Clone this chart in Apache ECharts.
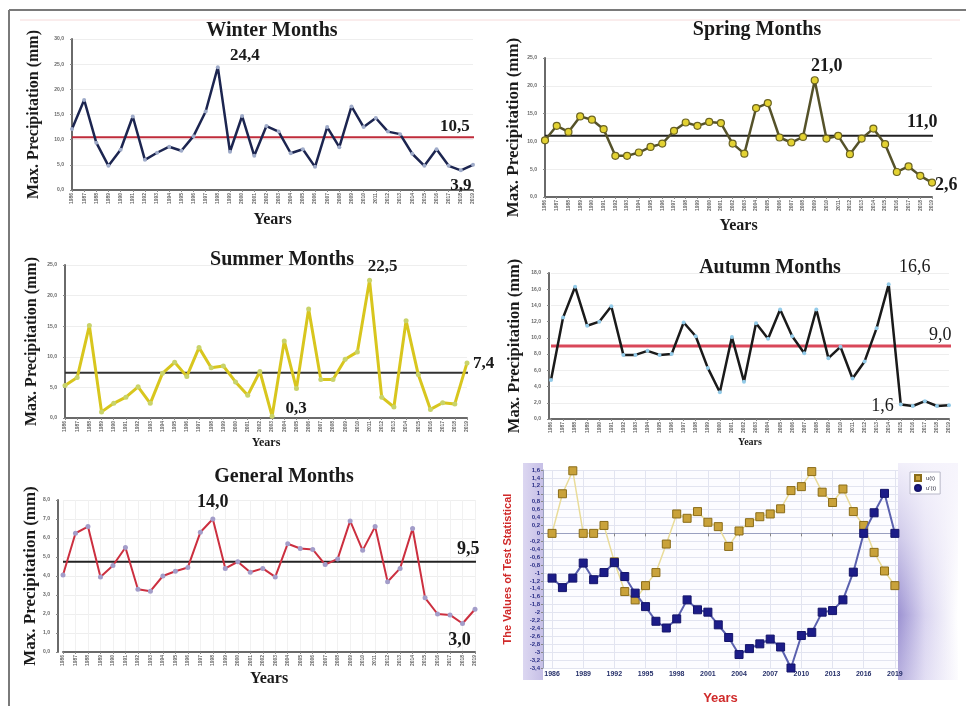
<!DOCTYPE html>
<html>
<head>
<meta charset="utf-8">
<script src="https://cdn.jsdelivr.net/npm/echarts@6/dist/echarts.min.js"></script>
<style>
  html, body { margin: 0; padding: 0; background: #ffffff; }
  #chart { width: 966px; height: 706px; }
</style>
</head>
<body>
<div id="chart"></div>
<script>
// Years of record (1986-2019)
const years = [1986, 1987, 1988, 1989, 1990, 1991, 1992, 1993, 1994, 1995, 1996, 1997,
  1998, 1999, 2000, 2001, 2002, 2003, 2004, 2005, 2006, 2007, 2008, 2009, 2010,
  2011, 2012, 2013, 2014, 2015, 2016, 2017, 2018, 2019];

// Maximum precipitation per season (mm)
const winterMax = [12.1, 17.9, 9.4, 4.8, 8.0, 14.6, 6.0, 7.4, 8.6, 7.8, 10.7, 15.6, 24.4, 7.6,
  14.7, 6.8, 12.7, 11.6, 7.3, 8.1, 4.6, 12.5, 8.5, 16.6, 12.5, 14.3, 11.6, 11.1, 7.2, 4.8,
  8.1, 4.8, 3.9, 5.0];
const springMax = [10.2, 12.8, 11.7, 14.5, 13.9, 12.2, 7.4, 7.4, 8.0, 9.0, 9.6, 11.9, 13.4, 12.8,
  13.5, 13.3, 9.6, 7.8, 16.0, 16.9, 10.7, 9.8, 10.8, 21.0, 10.5, 11.0, 7.7, 10.5, 12.3, 9.5,
  4.5, 5.5, 3.8, 2.6];
const summerMax = [5.3, 6.6, 15.1, 1.0, 2.4, 3.4, 5.1, 2.4, 7.3, 9.1, 6.8, 11.5, 8.2, 8.5,
  5.9, 3.7, 7.6, 0.3, 12.6, 4.8, 17.8, 6.3, 6.3, 9.6, 10.8, 22.5, 3.4, 1.8, 15.9, 7.1,
  1.4, 2.5, 2.3, 9.0];
const autumnMax = [4.8, 12.5, 16.3, 11.5, 12.0, 13.9, 7.9, 7.9, 8.4, 7.9, 8.0, 11.9, 10.2, 6.3,
  3.3, 10.1, 4.6, 11.8, 9.9, 13.5, 10.2, 8.1, 13.5, 7.5, 8.9, 5.0, 7.1, 11.2, 16.6, 1.8,
  1.6, 2.2, 1.6, 1.7];
const generalMax = [8.1, 12.5, 13.2, 7.9, 9.1, 11.0, 6.6, 6.4, 8.0, 8.5, 8.9, 12.6, 14.0, 8.8,
  9.5, 8.4, 8.8, 7.9, 11.4, 10.9, 10.8, 9.2, 9.8, 13.8, 10.7, 13.2, 7.4, 8.8, 13.0, 5.7,
  4.0, 3.9, 3.0, 4.5];

// Long-term means (mm)
const winterMean = 10.5;
const springMean = 11.0;
const summerMean = 7.4;
const autumnMean = 9.0;
const generalMean = 9.5;

// Tick labels printed on the general-months value axis
const generalTickText = ['0,0', '1,0', '2,0', '3,0', '4,0', '5,0', '6,0', '7,0', '8,0'];

// Sequential Mann-Kendall statistics
const uForward = [0, 1.0, 1.58, 0, 0, 0.2, -0.72, -1.47, -1.68, -1.32, -0.99, -0.27, 0.49, 0.38,
  0.55, 0.28, 0.17, -0.33, 0.06, 0.27, 0.42, 0.49, 0.62, 1.08, 1.18, 1.56, 1.04, 0.78, 1.12,
  0.55, 0.2, -0.48, -0.95, -1.32];
const uBackward = [-1.13, -1.37, -1.13, -0.75, -1.17, -0.99, -0.74, -1.09, -1.51, -1.85, -2.22,
  -2.39, -2.16, -1.68, -1.93, -1.99, -2.31, -2.63, -3.06, -2.91, -2.79, -2.67, -2.87, -3.4,
  -2.58, -2.5, -1.99, -1.95, -1.68, -0.98, 0, 0.52, 1.01, 0];
const mkYearTicks = [1986, 1989, 1992, 1995, 1998, 2001, 2004, 2007, 2010, 2013, 2016, 2019];

const serif = "'Liberation Serif', 'DejaVu Serif', serif";
const sans = "'Liberation Sans', Arial, sans-serif";

const fmtComma = v => (Math.round(v * 10) / 10).toFixed(1).replace('.', ',');
const fmtMK = v => {
  const r = Math.round(v * 10) / 10;
  return Number.isInteger(r) ? String(r) : String(r).replace('.', ',');
};

// Seasonal panels
const panels = [
  {
    name: 'Winter Months', values: winterMax, mean: winterMean, yMax: 30, yStep: 5,
    grid: { left: 72, top: 39, width: 401, height: 151 }, yOffset: 0,
    nameGap: 30, nameSize: 16, xNameGap: 22, xNameSize: 16,
    title: { x: 272, y: 31 },
    line: { color: '#1c2550', width: 2.5 }, marker: { color: '#9fabc9', size: 4 },
    meanColor: '#bf2b3a', meanWidth: 2, meanEnd: 2020.4, meanLabel: [-34, -11],
    labelSize: 17, labelWeight: 'bold',
    notes: [{ year: 1998, pos: 'top', offset: [27, 4] }, { year: 2018, pos: 'bottom', offset: [0, 0] }]
  },
  {
    name: 'Spring Months', values: springMax, mean: springMean, yMax: 25, yStep: 5,
    grid: { left: 545, top: 58, width: 387, height: 139 }, yOffset: 0,
    nameGap: 23, nameSize: 17, xNameGap: 21, xNameSize: 16,
    title: { x: 757, y: 30 },
    line: { color: '#55522a', width: 2.5 }, marker: { color: '#e3d232', size: 7, border: '#6b6320' },
    meanColor: '#222222', meanWidth: 2, meanEnd: 2021.4, meanLabel: [-26, -13],
    labelSize: 18, labelWeight: 'bold',
    notes: [{ year: 2009, pos: 'top', offset: [12, 4] }, { year: 2019, pos: 'right', offset: [-6, 3] }]
  },
  {
    name: 'Summer Months', values: summerMax, mean: summerMean, yMax: 25, yStep: 5,
    grid: { left: 65, top: 265, width: 402, height: 153 }, yOffset: 0,
    nameGap: 25, nameSize: 16, xNameGap: 19, xNameSize: 12,
    title: { x: 282, y: 260 },
    line: { color: '#d8c61e', width: 3 }, marker: { color: '#c9d36a', size: 5 },
    meanColor: '#333333', meanWidth: 2, meanEnd: 2019.8, meanLabel: [5, -9],
    labelSize: 17, labelWeight: 'bold',
    notes: [{ year: 2011, pos: 'top', offset: [13, 2] }, { year: 2003, pos: 'right', offset: [6, -8] }]
  },
  {
    name: 'Autumn Months', values: autumnMax, mean: autumnMean, yMax: 18, yStep: 2,
    grid: { left: 551, top: 273, width: 398, height: 146 }, yOffset: 2,
    nameGap: 26, nameSize: 16.5, xNameGap: 17, xNameSize: 10,
    title: { x: 770, y: 268 },
    line: { color: '#1a1a1a', width: 2.5 }, marker: { color: '#93cbe9', size: 4 },
    meanColor: '#d9485a', meanWidth: 3, meanEnd: 2020.3, meanLabel: [-22, -11],
    labelSize: 18, labelWeight: 'normal',
    notes: [{ year: 2014, pos: 'top', offset: [26, -1] }, { year: 2016, pos: 'left', offset: [-12, 0] }]
  },
  {
    name: 'General Months', values: generalMax, mean: generalMean, yMax: 16, yStep: 2,
    grid: { left: 63, top: 500, width: 412, height: 152 }, yOffset: 5, vGrid: true,
    tickText: generalTickText,
    nameGap: 18, nameSize: 17, xNameGap: 19, xNameSize: 16,
    title: { x: 284, y: 477 },
    line: { color: '#cc2f3f', width: 2 }, marker: { color: '#a39dc9', size: 5 },
    meanColor: '#222222', meanWidth: 2, meanEnd: 2020.2, meanLabel: [-19, -12],
    labelSize: 18, labelWeight: 'bold',
    notes: [{ year: 1998, pos: 'top', offset: [0, 0] }, { year: 2018, pos: 'bottom', offset: [-3, 0] }]
  }
];

const grids = [], xAxes = [], yAxes = [], series = [], graphics = [];

panels.forEach((p, i) => {
  grids.push(Object.assign({ containLabel: false }, p.grid));

  xAxes.push({
    type: 'value', gridIndex: i, min: years[0], max: years[years.length - 1], interval: 1,
    name: 'Years', nameLocation: 'middle', nameGap: p.xNameGap,
    nameTextStyle: { fontFamily: serif, fontWeight: 'bold', fontSize: p.xNameSize, color: '#1a1a1a' },
    axisLine: { lineStyle: { color: '#6a6a6a', width: 2 } },
    axisTick: { show: true, length: 2, lineStyle: { color: '#888' } },
    axisLabel: { rotate: 90, fontSize: 5, fontWeight: 'bold', color: '#666', margin: 3,
      formatter: v => String(v) },
    splitLine: { show: !!p.vGrid, lineStyle: { color: '#f1f1f1' } }
  });

  yAxes.push({
    type: 'value', gridIndex: i, min: 0, max: p.yMax, interval: p.yStep, offset: p.yOffset,
    name: 'Max. Precipitation (mm)', nameLocation: 'middle', nameGap: p.nameGap,
    nameTextStyle: { fontFamily: serif, fontWeight: 'bold', fontSize: p.nameSize, color: '#1a1a1a' },
    axisLine: { show: true, lineStyle: { color: '#6a6a6a', width: 2 } },
    axisTick: { show: true, length: 2, lineStyle: { color: '#888' } },
    axisLabel: { fontSize: 5, fontWeight: 'bold', color: '#666', margin: 8,
      formatter: p.tickText ? (v => p.tickText[Math.round(v / p.yStep)]) : fmtComma },
    splitLine: { show: true, lineStyle: { color: '#eeeeee' } }
  });

  const labelStyle = { fontFamily: serif, fontSize: p.labelSize, fontWeight: p.labelWeight, color: '#1a1a1a' };

  // long-term mean
  series.push({
    type: 'line', xAxisIndex: i, yAxisIndex: i, silent: true, animation: false,
    data: [[years[0], p.mean], [p.meanEnd, p.mean]],
    showSymbol: false, symbol: 'none', clip: false, z: 2,
    lineStyle: { color: p.meanColor, width: p.meanWidth },
    endLabel: Object.assign({ show: true, formatter: fmtComma(p.mean), distance: 0, offset: p.meanLabel }, labelStyle)
  });

  // yearly maxima
  series.push({
    type: 'line', xAxisIndex: i, yAxisIndex: i, silent: true, animation: false, z: 3,
    data: p.values.map((v, k) => {
      const item = { value: [years[k], v] };
      const note = p.notes.find(n => n.year === years[k]);
      if (note) {
        item.label = Object.assign({ show: true, position: note.pos, offset: note.offset, distance: 5,
          formatter: fmtComma(v) }, labelStyle);
      }
      return item;
    }),
    symbol: 'circle', symbolSize: p.marker.size, showSymbol: true,
    itemStyle: { color: p.marker.color, borderColor: p.marker.border || p.marker.color,
      borderWidth: p.marker.border ? 1.2 : 0 },
    lineStyle: p.line
  });

  graphics.push({
    type: 'text', x: p.title.x, y: p.title.y, z: 10,
    style: { text: p.name, align: 'center', verticalAlign: 'middle',
      font: 'bold 20px ' + serif, fill: '#1a1a1a' }
  });
});

// Mann-Kendall panel
const mk = panels.length;
grids.push({ left: 543, top: 470, width: 355, height: 198, show: true,
  backgroundColor: '#fcfcff', borderWidth: 0 });
xAxes.push({
  type: 'value', gridIndex: mk, min: 1985.13, max: 2019.3,
  name: 'Years', nameLocation: 'middle', nameGap: 24,
  nameTextStyle: { fontFamily: sans, fontWeight: 'bold', fontSize: 13, color: '#d02a2a' },
  axisLine: { lineStyle: { color: '#9aa0c0', width: 1 } },
  axisTick: { show: true, length: 3, customValues: mkYearTicks, lineStyle: { color: '#888' } },
  axisLabel: { customValues: mkYearTicks, fontSize: 7, fontWeight: 'bold', color: '#26306a', margin: 3,
    formatter: v => String(v) },
  splitLine: { show: true, lineStyle: { color: '#e2e4f0' } }
});
yAxes.push({
  type: 'value', gridIndex: mk, min: -3.4, max: 1.6, interval: 0.2,
  name: 'The Values of Test Statistical', nameLocation: 'middle', nameGap: 30,
  nameTextStyle: { fontFamily: sans, fontWeight: 'bold', fontSize: 11, color: '#d02a2a' },
  axisLine: { show: true, lineStyle: { color: '#9aa0c0', width: 1 } },
  axisTick: { show: true, length: 2, lineStyle: { color: '#888' } },
  axisLabel: { fontSize: 6, fontWeight: 'bold', color: '#2a2f86', margin: 3, formatter: fmtMK },
  splitLine: { show: true, lineStyle: { color: '#e2e4f0' } }
});
series.push({
  name: 'u(t)', type: 'line', xAxisIndex: mk, yAxisIndex: mk, silent: true, animation: false, z: 3,
  data: uForward.map((v, k) => [years[k], v]),
  symbol: 'rect', symbolSize: 8,
  itemStyle: { color: '#c9a23a', borderColor: '#8a6c18', borderWidth: 1 },
  lineStyle: { color: '#e9dc9a', width: 1.5 }
});
series.push({
  name: "u'(t)", type: 'line', xAxisIndex: mk, yAxisIndex: mk, silent: true, animation: false, z: 4,
  data: uBackward.map((v, k) => [years[k], v]),
  symbol: 'rect', symbolSize: 8,
  itemStyle: { color: '#1c1c88', borderColor: '#14146a', borderWidth: 1 },
  lineStyle: { color: '#5a60ae', width: 2 }
});

// panel decorations: frame, lavender bands beside the test-statistic plot
graphics.unshift(
  { type: 'line', shape: { x1: 9, y1: 10, x2: 966, y2: 10 }, style: { stroke: '#7a7a7a', lineWidth: 2 } },
  { type: 'line', shape: { x1: 9, y1: 10, x2: 9, y2: 706 }, style: { stroke: '#7a7a7a', lineWidth: 2 } },
  { type: 'line', shape: { x1: 20, y1: 20, x2: 960, y2: 20 }, style: { stroke: '#f6dada', lineWidth: 1 } },
  { type: 'rect', shape: { x: 523, y: 463, width: 20, height: 217 }, z: -1,
    style: { fill: new echarts.graphic.LinearGradient(0, 0, 1, 0, [
      { offset: 0, color: '#dcd7f1' }, { offset: 1, color: '#c6bfe6' }]) } },
  { type: 'rect', shape: { x: 898, y: 463, width: 60, height: 217 }, z: -2,
    style: { fill: new echarts.graphic.LinearGradient(0, 0, 1, 0, [
      { offset: 0, color: '#9c92d2' }, { offset: 0.45, color: '#d9d4f0' }, { offset: 1, color: '#ffffff' }]) } },
  { type: 'rect', shape: { x: 898, y: 463, width: 60, height: 217 }, z: -1,
    style: { fill: new echarts.graphic.LinearGradient(0, 0, 0, 1, [
      { offset: 0, color: 'rgba(246,244,252,0.95)' }, { offset: 0.35, color: 'rgba(246,244,252,0.55)' },
      { offset: 0.7, color: 'rgba(246,244,252,0)' }, { offset: 1, color: 'rgba(246,244,252,0.3)' }]) } }
);

const chart = echarts.init(document.getElementById('chart'), null, { renderer: 'canvas' });
chart.setOption({
  animation: false,
  backgroundColor: '#ffffff',
  grid: grids,
  xAxis: xAxes,
  yAxis: yAxes,
  legend: {
    data: [{ name: 'u(t)', icon: 'rect' }, { name: "u'(t)", icon: 'circle' }],
    left: 910, top: 472, orient: 'vertical', itemGap: 2, itemWidth: 6, itemHeight: 6,
    padding: [2, 4], backgroundColor: '#ffffff', borderColor: '#b8b8c8', borderWidth: 1,
    textStyle: { fontSize: 6, color: '#334', fontFamily: sans }
  },
  graphic: graphics,
  series: series
});
</script>
</body>
</html>
